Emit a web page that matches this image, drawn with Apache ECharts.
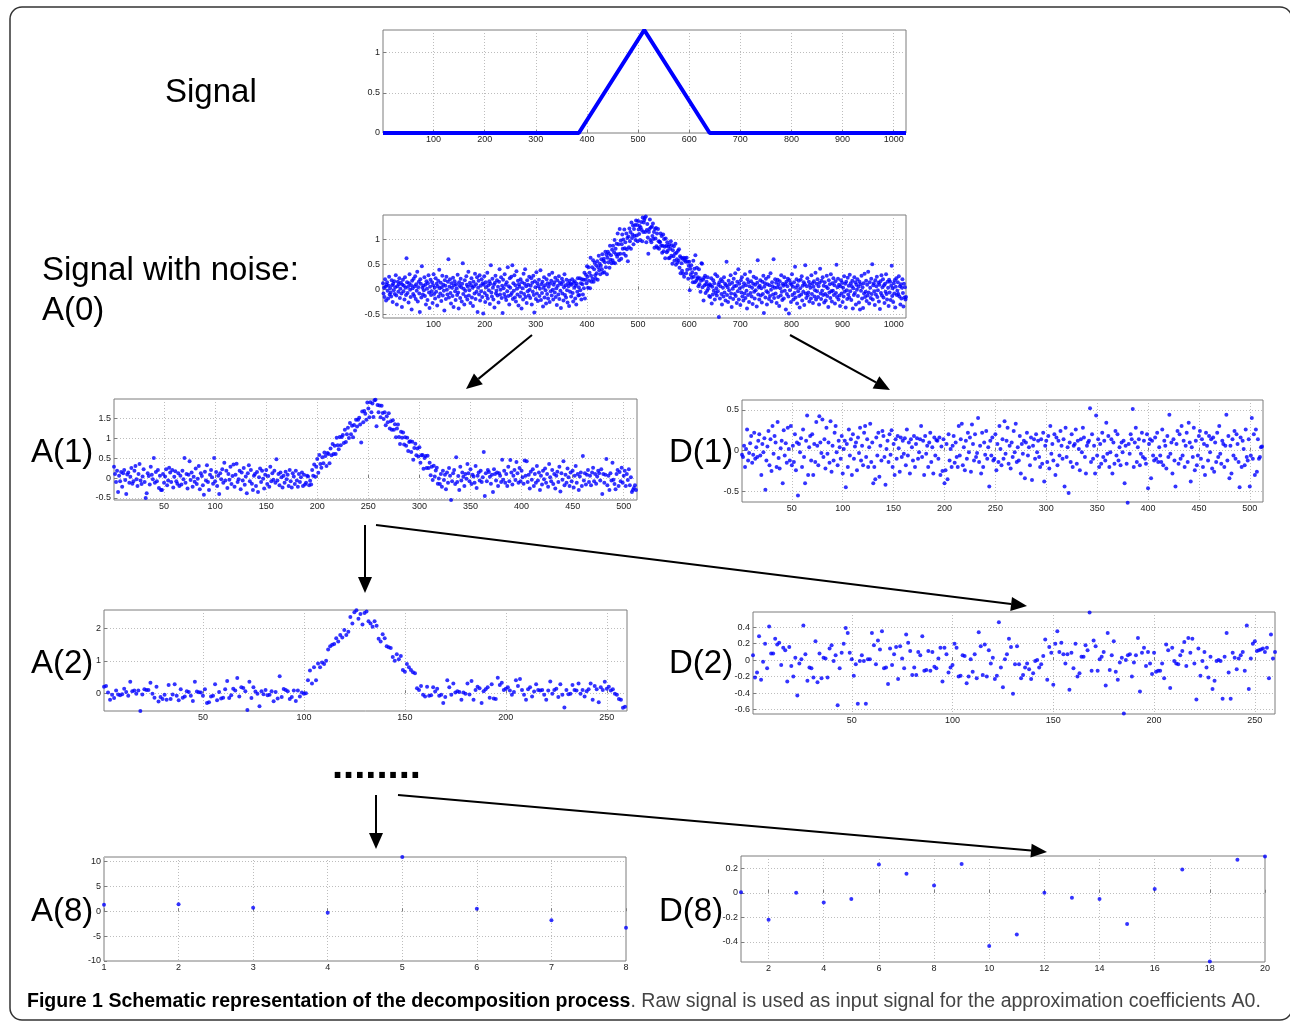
<!DOCTYPE html>
<html><head><meta charset="utf-8">
<script src="https://cdn.jsdelivr.net/npm/echarts@6/dist/echarts.min.js"></script>
<style>html,body{margin:0;padding:0;background:#fff}#c{width:1290px;height:1021px}</style>
</head><body><div id="c"></div>
<script>
// ---------------- data ----------------
// Clean signal: breakpoints of the triangle (sample index, value)
const signalX = [1, 384, 512, 640, 1024];
const signalY = [0, 0, 1.28, 0, 0];

// All noisy series below are stored in hundredths, one value per sample (index = position + 1)
const a0 = [
12,-8,3,-15,20,5,-22,9,14,-3,-18,7,25,-10,2,-6,
-14,18,8,-25,11,-2,16,-9,4,28,-12,-30,6,15,-5,10,
22,-17,1,13,-8,-35,9,19,-4,7,-20,24,3,-11,62,14,
-7,5,-26,12,30,-1,-15,8,-40,17,2,-9,21,-13,6,26,
-19,10,-3,35,-24,4,15,-8,-45,20,11,-16,46,3,-10,7,
-2,24,-13,9,-30,16,1,-21,12,28,-6,-37,5,19,-11,-4,
14,-27,8,30,-9,3,-18,22,-5,11,-32,6,17,-14,39,2,
-8,13,-23,4,27,-12,9,-3,-42,18,7,-19,25,-1,-10,15,
60,-16,5,20,-7,-28,12,3,-13,23,-35,8,16,-4,-21,10,
2,-11,29,-6,-38,14,7,-17,21,4,-24,11,52,-9,1,-30,
18,-3,-14,26,9,-20,5,35,-12,-2,13,-27,8,22,-16,3,
-33,15,6,-8,31,-19,10,-5,24,-45,3,17,-10,28,-22,7,
-4,20,-15,12,-48,9,26,-7,-25,14,4,-12,33,-18,8,-2,
16,-29,11,48,-6,-14,21,3,-20,9,-36,13,27,-8,-3,18,
-12,5,-26,15,40,-10,-1,24,-17,7,-47,19,2,-9,30,-15,
9,-21,14,-4,44,-13,6,-30,22,3,-11,25,-7,48,-19,12,
-3,28,-16,8,-24,36,1,-10,17,-32,10,5,-14,20,-6,-38,
14,2,-20,31,-9,11,40,-15,6,-27,18,-4,9,-12,25,-1,
-17,7,22,-30,13,-5,27,-11,-46,16,4,-19,34,-8,12,-23,
6,19,-13,1,38,-21,10,-7,15,-34,3,24,-16,8,-2,-28,
20,-9,12,-18,5,29,-25,11,-4,17,-12,33,-1,-20,9,14,
-6,23,-15,2,-31,18,7,-10,26,-19,13,-3,-37,10,21,-8,
15,-22,4,30,-11,8,-16,19,-2,-26,12,6,-33,17,-5,11,
-14,9,20,-7,-24,13,3,16,-18,7,-30,11,-5,22,-12,4,
-11,22,-2,12,-20,20,10,-10,19,2,33,-18,19,29,12,46,
25,3,44,17,33,2,63,27,15,44,21,58,15,40,53,28,
21,48,32,56,19,44,67,38,51,30,47,60,40,70,33,57,
61,34,54,75,44,69,30,63,75,54,71,43,87,59,68,52,
79,58,87,53,74,98,52,81,70,91,65,111,70,90,58,120,
71,97,61,90,109,81,99,71,119,82,94,67,111,80,102,56,
105,84,121,96,114,81,133,102,109,127,90,120,106,128,98,137,
107,128,96,136,119,110,126,98,123,134,118,96,143,114,133,138,
142,114,145,94,118,130,103,71,114,120,139,98,123,94,125,106,
131,100,114,83,120,101,122,86,111,83,120,96,81,95,94,111,
87,106,73,87,109,76,100,85,62,101,87,74,94,77,85,62,
89,63,81,96,67,88,51,78,66,86,57,71,91,49,73,60,
53,77,57,80,43,66,32,63,52,37,61,31,63,25,58,62,
55,32,63,39,55,21,47,55,-2,41,29,48,23,34,14,57,
25,41,14,68,31,17,43,21,24,6,40,10,22,-5,17,52,
51,4,19,-22,23,8,27,-7,10,15,-3,24,1,7,-13,10,
-15,8,22,-28,5,-10,18,-3,12,-20,30,-7,2,-12,26,-4,
9,-55,14,-18,6,20,-9,-30,16,3,-14,24,-6,11,-22,8,
55,-11,4,-25,17,-2,10,-16,28,-8,-35,13,1,-19,21,6,
-9,32,-13,7,-27,15,-4,40,-20,11,2,-31,18,-6,24,-14,
5,-22,12,-8,30,-17,8,-3,-38,20,-11,14,-25,6,35,-7,
16,-14,3,-29,11,25,-5,-18,9,-2,22,-34,13,58,-10,4,
-20,7,18,-12,2,-26,15,-9,27,-47,5,12,-16,21,-4,-30,
10,-6,25,-19,8,-13,32,-1,-24,14,6,-10,60,-17,3,20,
-8,13,-27,4,19,-15,9,-33,16,2,-12,28,-5,-21,11,7,
-18,24,-3,10,-40,15,-9,6,21,-14,-48,18,-2,12,-25,9,
30,-11,5,-20,14,-7,45,-16,3,20,-28,8,-4,17,-13,-36,
2,19,-10,26,-22,7,-5,14,-31,10,48,-8,-17,6,22,-12,
-6,15,-24,9,3,-18,28,-9,12,-27,5,16,-14,-2,33,-20,
11,-4,20,-15,6,-30,13,41,-8,-19,17,-3,24,-11,7,-26,
14,-9,-22,5,27,-13,2,-35,18,-6,10,-17,30,-4,-24,12,
-3,22,-11,8,-28,16,-7,49,-15,4,21,-20,9,-12,-33,6,
18,-8,13,-25,3,-14,26,-5,11,-36,15,-2,-19,23,-10,7,
-16,29,-4,12,-21,6,17,-38,2,-11,24,-7,14,-30,9,-1,
20,-13,5,-26,15,-40,10,-3,27,-18,4,-37,12,-8,31,-15,
-5,17,-23,9,-12,35,-6,-28,14,3,-17,21,-9,50,-20,8,
12,-4,-31,18,-10,6,25,-15,-2,13,-24,9,-39,16,-7,28,
-12,4,20,-16,8,-27,11,-5,30,-9,-20,15,3,-33,19,-6,
15,-21,7,47,-13,2,-25,12,-8,18,-36,5,22,-11,-3,14,
-9,26,-14,6,-30,10,-18,3,20,-7,-34,11,-16,4,-20,-15
];

const a1 = [
28,10,-10,18,-35,6,-8,15,-22,12,20,-5,-40,9,14,-12,
3,25,-14,-8,18,30,-3,-20,10,35,-6,-15,4,22,-10,-50,
-38,12,5,-16,28,8,-3,50,-12,15,-8,20,-25,6,-30,-30,
10,-12,4,22,-18,-6,26,14,-10,20,-24,3,17,-8,-14,12,
-20,6,-16,18,-3,50,-12,10,-26,8,42,-5,14,-22,3,-9,
24,-15,-2,30,-28,12,5,-18,-42,16,-6,32,-10,-30,8,20,
2,-14,50,-8,15,-20,6,-40,12,-3,22,-12,38,-6,18,-25,
10,-4,28,-15,5,34,-22,8,36,-10,-3,18,-28,14,-6,25,
-17,4,-38,12,32,-8,20,-14,-30,6,10,-20,15,-35,2,24,
-10,18,-2,-26,8,20,-15,5,-22,28,-8,12,-4,18,-12,47,
-6,10,-18,14,2,-24,6,-12,16,-3,8,-20,20,-8,-24,12,
4,-15,18,-6,-22,10,-10,2,14,-20,8,-16,-12,6,4,-18,
-7,-16,20,6,34,3,28,48,13,58,35,26,52,37,64,55,
30,63,60,37,74,57,85,60,81,60,101,82,72,103,82,103,
108,88,121,90,110,126,100,138,110,131,102,133,119,146,129,146,
151,134,89,167,140,168,161,146,189,174,152,190,165,187,153,195,
196,130,183,165,182,152,181,163,148,165,132,155,140,162,124,142,
121,145,121,135,102,124,134,103,85,116,101,114,84,102,81,101,
68,90,92,65,91,46,75,86,57,74,54,77,38,57,58,23,
50,55,25,56,25,38,7,28,-5,31,4,19,26,-14,-1,-15,
10,-22,18,-5,8,-28,14,-12,25,6,-55,-8,12,20,-15,52,
-10,5,-30,28,-6,14,3,-20,10,-2,35,12,-8,22,-15,8,
4,-12,30,-25,6,14,-6,18,-10,2,65,-45,12,-8,20,15,
3,-14,8,-35,22,10,-6,14,-20,12,6,-10,46,-4,18,-12,
10,-20,28,-8,45,14,-16,6,20,-5,40,12,-12,25,-8,18,
2,-14,44,6,42,-10,8,-26,16,-4,22,-20,10,-12,30,-6,
14,-30,6,-16,18,-3,24,-12,10,-22,35,2,-8,20,-15,10,
-26,6,16,-10,28,-34,12,-4,42,-18,8,-12,24,2,-20,14,
-8,18,-24,6,30,-12,10,-30,4,14,-20,55,-6,12,-16,8,
20,-10,6,-18,14,26,-8,10,-14,4,18,12,-6,22,-40,10,
-12,8,48,-18,6,-30,12,-6,38,-4,-15,-28,10,20,-20,15,
-8,26,-12,6,18,-20,10,-5,22,-18,2,-35,-30,-25,-18,-30
];

const d1 = [
-5,-8,6,-20,2,26,-12,-3,9,18,-15,-5,22,-10,4,-8,
12,20,-6,-30,8,-2,15,-48,-12,5,24,-18,14,-25,30,-4,
18,10,-20,35,-9,-22,3,12,-40,25,-6,9,-15,28,2,-12,
30,-18,6,-14,20,-24,10,-55,8,-2,15,-20,26,-8,-40,12,
43,-30,4,18,-12,20,-30,8,-14,35,6,-18,42,10,-3,38,
-8,14,-22,28,-4,10,-15,36,-26,6,-12,22,30,-2,-18,12,
4,-10,18,-28,2,12,-45,8,-20,26,-6,14,-30,20,-10,5,
10,-24,16,-3,28,-12,6,-18,22,30,-8,14,-20,4,33,-14,
10,-40,-20,-35,16,-6,22,-32,6,-12,24,18,-8,-42,2,12,
-14,20,-5,25,-20,8,-30,14,-10,18,3,-26,16,-8,12,-4,
15,-18,26,-6,10,-28,14,4,-12,18,-20,8,15,-10,-2,14,
30,-8,12,-30,18,-4,6,-20,10,22,-14,4,-28,16,-6,13,
12,-10,16,-30,5,-25,14,-40,-24,8,-35,20,-12,2,-20,6,
18,-15,10,-8,-20,30,-6,14,33,-18,4,-24,12,-10,22,-2,
16,-26,32,8,-12,20,-8,-3,40,-14,6,-28,22,-20,10,-5,
24,-10,4,-44,12,-6,16,-12,-10,20,-24,8,-14,30,2,-18,
14,-10,36,-4,12,28,-16,6,-22,10,-8,24,-2,33,-14,4,
-12,18,-28,8,-4,12,-34,10,22,-6,4,-18,16,-36,6,14,
-10,20,-2,12,-8,-20,14,-16,22,-38,6,12,-14,18,-22,30,
-4,8,-12,20,-30,16,-18,12,-6,24,6,-10,14,-44,28,-8,
4,-52,10,-14,20,-20,6,8,26,-16,12,2,-24,14,-2,28,
16,-8,-28,6,10,12,52,-14,20,-10,6,-28,43,-6,14,-20,
8,-16,22,-8,12,-12,34,-4,18,-20,-2,14,-28,10,-16,24,
-6,20,-12,4,-18,10,-2,12,-40,6,-16,-64,8,-4,20,14,
51,-20,10,28,-14,4,14,-18,-4,22,-8,12,-10,-16,20,-46,
8,14,-34,12,-6,-12,16,-10,22,-14,4,-6,-14,26,-18,12,
6,-22,18,-8,44,-4,10,-28,14,-12,-44,8,24,-16,20,-10,
30,-6,12,-20,6,22,-14,34,10,-38,4,-8,28,-24,12,-18,
-6,18,24,-10,14,-20,8,-30,22,6,-12,18,-2,14,-22,16,
-26,10,-14,22,-8,30,-4,-16,12,8,-20,6,44,-12,18,-34,
6,-28,14,-6,24,-10,20,8,-14,-45,16,-20,12,2,-18,26,
-8,-12,14,-44,-6,40,-10,20,-30,26,-26,14,-10,-8,4,5
];

const a2 = [
20,22,2,-20,-5,-15,8,-4,-6,-3,14,4,-8,35,6,8,-2,8,-55,-4,
12,10,10,32,-2,-14,20,-26,-12,-18,-5,-20,25,-18,-4,28,-8,-22,12,-14,
-10,6,4,-8,-24,35,5,3,2,-8,12,-30,-28,-10,-8,28,-22,4,-16,-14,
12,38,-15,-6,14,8,47,-10,18,16,6,-52,35,-15,18,5,-2,-40,6,-3,
10,-6,-5,6,-25,4,-16,52,-12,13,10,6,-18,-12,8,-24,8,-10,2,-2,
0,40,70,30,80,40,92,80,95,90,100,135,145,150,152,170,160,180,172,195,
180,190,235,215,250,256,230,245,212,248,252,222,215,205,222,208,168,160,182,170,
145,142,140,112,100,120,105,115,72,66,90,80,72,65,62,15,10,22,-5,-10,
20,-8,-6,18,5,14,-8,-5,-30,-12,40,18,-5,30,2,6,4,-20,2,-2,
30,-4,38,-20,10,20,15,-30,6,12,18,-14,28,-16,-18,48,25,32,10,14,
18,8,-5,4,40,22,44,10,-5,-20,12,18,-10,5,28,10,8,10,-5,-20,
8,36,-2,10,14,-12,28,-5,-44,10,-3,-2,25,10,8,30,-2,10,-10,6,
12,30,-20,22,12,-28,18,10,35,14,20,8,12,-2,-5,-18,-20,-45,-42
];

const d2 = [
6,-21,-15,29,-24,-2,20,-10,41,8,8,26,19,21,-6,15,12,-26,16,-7,
-20,3,-43,-4,1,42,7,-25,-9,-10,-21,23,-27,8,-22,3,2,-21,14,18,
-1,6,-55,-10,9,20,39,33,9,1,-19,-5,-53,-1,6,-1,-53,1,1,33,
18,-5,24,13,35,-10,-9,-29,14,-6,7,16,-23,17,2,-10,31,21,11,-18,
-9,-18,10,6,29,-13,-12,11,-13,10,-8,-10,2,15,-26,15,7,-15,-9,-6,
20,15,-20,-19,6,5,-28,-20,1,-14,7,-22,34,17,-18,19,-20,12,-4,3,
-23,-19,46,-9,-33,1,7,26,16,-41,-5,17,-5,-22,-18,-9,-4,-11,-23,-16,
-1,0,-9,-5,5,25,-24,16,9,-30,20,35,10,21,7,-4,7,-36,9,-10,
20,-20,-16,4,4,18,12,58,-13,24,17,-13,1,4,10,-31,33,-12,6,23,
-14,-24,-3,3,-65,0,6,7,-20,-3,6,27,-38,9,15,-7,10,-4,-17,9,
-14,-13,-13,-4,-22,19,12,-34,15,-1,-4,-5,6,11,22,-7,27,9,26,-4,
-48,14,-19,-1,10,-9,-21,4,-35,-25,-1,0,-1,-47,4,33,-15,-47,9,3,
-11,2,6,10,-13,42,-35,2,20,23,11,12,13,14,10,15,-22,31,2,10
];

const a8 = [1.3, 1.4, 0.7, -0.3, 10.9, 0.5, -1.8, -3.3];
const d8 = [0.005, -0.22, 0.0, -0.08, -0.05, 0.23, 0.155, 0.06, 0.235, -0.435,
            -0.34, 0.0, -0.04, -0.05, -0.255, 0.03, 0.19, -0.56, 0.27, 0.295];

// tick values
const ticksX1024 = [100,200,300,400,500,600,700,800,900,1000];
const ticksX512 = [50,100,150,200,250,300,350,400,450,500];
const ticksX256 = [50,100,150,200,250];
const ticksX8 = [1,2,3,4,5,6,7,8];
const ticksX20 = [2,4,6,8,10,12,14,16,18,20];
const ticksYSig = [0,0.5,1];
const ticksYA0 = [-0.5,0,0.5,1];
const ticksYA1 = [-0.5,0,0.5,1,1.5];
const ticksYD1 = [-0.5,0,0.5];
const ticksYA2 = [0,1,2];
const ticksYD2 = [-0.6,-0.4,-0.2,0,0.2,0.4];
const ticksYA8 = [-10,-5,0,5,10];
const ticksYD8 = [-0.4,-0.2,0,0.2];

// --------------- layout / style ---------------
const BLUE = '#0000ff';
const AXC = '#7d7d7d';
const FONT = 'Liberation Sans, Arial, sans-serif';

const panels = [
  {g:[383,30,523,103],  x:[1,1024], y:[0,1.28],      xt:ticksX1024, yt:ticksYSig},
  {g:[383,215,523,103], x:[1,1024], y:[-0.57,1.48],  xt:ticksX1024, yt:ticksYA0},
  {g:[114,399,523,101], x:[1,513],  y:[-0.55,1.98],  xt:ticksX512,  yt:ticksYA1},
  {g:[742,400,521,102], x:[1,513],  y:[-0.63,0.62],  xt:ticksX512,  yt:ticksYD1},
  {g:[104,610,523,101], x:[1,260],  y:[-0.55,2.57],  xt:ticksX256,  yt:ticksYA2},
  {g:[753,612,522,102], x:[1,260],  y:[-0.655,0.585],xt:ticksX256,  yt:ticksYD2},
  {g:[104,857,522,104], x:[1,8],    y:[-10,10.9],    xt:ticksX8,    yt:ticksYA8},
  {g:[741,856,524,106], x:[1,20],   y:[-0.565,0.30], xt:ticksX20,   yt:ticksYD8}
];

function axis(gi, range, ticks, isX){
  return {
    type:'value', gridIndex:gi, min:range[0], max:range[1],
    axisLine:{show:false},
    axisTick:{show:true, inside:true, length:3, customValues:ticks, lineStyle:{color:AXC}},
    axisLabel:{customValues:ticks, fontSize:9, color:'#222', fontFamily:FONT, margin:isX?2:3,
               showMinLabel:true, showMaxLabel:true, formatter:v => String(v)},
    splitLine:{show:true, lineStyle:{type:[1,2], color:'#bdbdbd', width:1}}
  };
}

const grids = panels.map(p => ({left:p.g[0], top:p.g[1], width:p.g[2], height:p.g[3],
  show:true, borderColor:AXC, borderWidth:1, backgroundColor:'#fff', containLabel:false, outerBoundsMode:'none'}));
const xAxes = panels.map((p,i) => axis(i, p.x, p.xt, true));
const yAxes = panels.map((p,i) => axis(i, p.y, p.yt, false));

function pts(arr, scale){ return arr.map((v,i) => [i+1, v*scale]); }
function scatter(i, data, size){
  return {type:'scatter', xAxisIndex:i, yAxisIndex:i, data:data, symbolSize:size,
          itemStyle:{color:BLUE}, clip:false, silent:true, animation:false};
}

const series = [
  {type:'line', xAxisIndex:0, yAxisIndex:0, data:signalX.map((x,i)=>[x, signalY[i]]),
   showSymbol:false, lineStyle:{color:BLUE, width:4}, clip:false, silent:true, animation:false},
  scatter(1, pts(a0, 0.01), 4),
  scatter(2, pts(a1, 0.01), 4),
  scatter(3, pts(d1, 0.01), 4),
  scatter(4, pts(a2, 0.01), 4),
  scatter(5, pts(d2, 0.01), 4),
  scatter(6, pts(a8, 1), 4),
  scatter(7, pts(d8, 1), 4)
];

// --------------- annotations ---------------
function label(text, x, y){
  return {type:'text', x:x, y:y, style:{text:text, fill:'#000', font:'33px ' + FONT, verticalAlign:'middle', align:'left'}};
}
function arrow(x1,y1,x2,y2){
  const dx = x2-x1, dy = y2-y1, L = Math.hypot(dx,dy), ux = dx/L, uy = dy/L;
  const hl = 16, hw = 7;
  const bx = x2 - ux*hl, by = y2 - uy*hl;
  return [
    {type:'line', shape:{x1:x1,y1:y1,x2:bx,y2:by}, style:{stroke:'#000', lineWidth:2}},
    {type:'polygon', shape:{points:[[x2,y2],[bx - uy*hw, by + ux*hw],[bx + uy*hw, by - ux*hw]]}, style:{fill:'#000'}}
  ];
}

const CAPFONT = 'Liberation Sans Narrow, Liberation Sans, sans-serif';
const graphics = [
  {type:'rect', shape:{x:10, y:7, width:1282, height:1013, r:12}, style:{fill:'none', stroke:'#333', lineWidth:1.5}},
  label('Signal', 165, 93),
  label('Signal with noise:', 42, 271),
  label('A(0)', 42, 311),
  label('A(1)', 31, 453),
  label('D(1)', 669, 453),
  label('A(2)', 31, 664),
  label('D(2)', 669, 664),
  label('A(8)', 31, 912),
  label('D(8)', 659, 912),
  {type:'text', x:332, y:787, style:{text:'........', fill:'#000', font:'bold 40px ' + FONT, verticalAlign:'bottom'}},
  ...arrow(532,335,466,389),
  ...arrow(790,335,890,390),
  ...arrow(365,525,365,593),
  ...arrow(376,525,1027,606),
  ...arrow(376,795,376,849),
  ...arrow(398,795,1047,852),
  {type:'text', x:27, y:1002, style:{
    text:'{b|Figure 1 Schematic representation of the decomposition process}{n|. Raw signal is used as input signal for the approximation coefficients A0.}',
    verticalAlign:'middle',
    rich:{
      b:{fontFamily:CAPFONT, fontWeight:'bold', fontSize:19.55, fill:'#000', color:'#000'},
      n:{fontFamily:CAPFONT, fontSize:19.55, fill:'#444', color:'#444'}
    }}}
];

const chart = echarts.init(document.getElementById('c'), null, {renderer:'canvas'});
chart.setOption({
  animation:false,
  backgroundColor:'#fff',
  grid:grids, xAxis:xAxes, yAxis:yAxes, series:series,
  graphic:graphics
});
</script></body></html>
